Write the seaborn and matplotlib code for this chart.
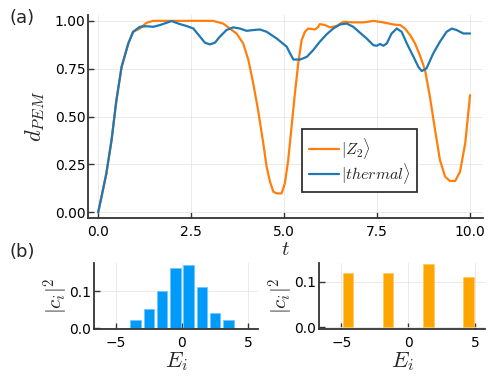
import matplotlib
matplotlib.use('Agg')
import matplotlib.pyplot as plt
from matplotlib.ticker import FormatStrFormatter
import numpy as np
import pandas as pd
import seaborn as sns

# data
t_thermal = [0.0, 0.09, 0.22, 0.36, 0.49, 0.63, 0.81, 0.94, 1.12, 1.30, 1.48, 1.66, 1.84, 1.97,
             2.20, 2.38, 2.56, 2.74, 2.87, 3.00, 3.14, 3.27, 3.45, 3.63, 3.81, 3.99, 4.17, 4.35,
             4.53, 4.80, 5.07, 5.16, 5.25, 5.43, 5.61, 5.78, 5.96, 6.14, 6.32, 6.50, 6.68, 6.86,
             7.04, 7.22, 7.40, 7.49, 7.58, 7.67, 7.76, 7.89, 8.03, 8.16, 8.30, 8.48, 8.61, 8.70,
             8.83, 9.01, 9.19, 9.37, 9.51, 9.64, 9.82, 10.0]
d_thermal = [0.0, 0.082, 0.204, 0.378, 0.586, 0.760, 0.882, 0.943, 0.969, 0.972, 0.969, 0.978,
             0.990, 0.999, 0.983, 0.973, 0.960, 0.917, 0.886, 0.877, 0.886, 0.917, 0.952, 0.966,
             0.960, 0.948, 0.952, 0.955, 0.943, 0.908, 0.865, 0.830, 0.798, 0.798, 0.812, 0.847,
             0.891, 0.929, 0.960, 0.981, 0.986, 0.969, 0.938, 0.908, 0.873, 0.870, 0.879, 0.870,
             0.882, 0.934, 0.960, 0.943, 0.882, 0.812, 0.760, 0.738, 0.752, 0.830, 0.891, 0.943,
             0.960, 0.952, 0.934, 0.934]

t_z2 = [0.0, 0.09, 0.22, 0.36, 0.49, 0.63, 0.81, 0.94, 1.12, 1.30, 1.48, 2.0, 2.5, 3.09, 3.36,
        3.54, 3.72, 3.90, 4.04, 4.17, 4.30, 4.44, 4.53, 4.62, 4.71, 4.80, 4.93, 5.02, 5.11, 5.20,
        5.29, 5.38, 5.47, 5.56, 5.65, 5.83, 5.92, 5.96, 6.10, 6.23, 6.41, 6.59, 6.86, 7.13, 7.40,
        7.67, 7.94, 8.12, 8.25, 8.39, 8.52, 8.65, 8.79, 8.92, 9.06, 9.19, 9.33, 9.46, 9.60, 9.73,
        9.87, 10.0]
d_z2 = [0.0, 0.082, 0.204, 0.378, 0.586, 0.760, 0.882, 0.943, 0.960, 0.990, 1.0, 1.0, 1.0, 1.0,
        0.986, 0.960, 0.934, 0.882, 0.795, 0.673, 0.534, 0.360, 0.238, 0.160, 0.108, 0.099, 0.099,
        0.151, 0.273, 0.447, 0.621, 0.778, 0.899, 0.943, 0.960, 0.955, 0.969, 0.983, 0.978, 0.966,
        0.973, 0.995, 0.992, 0.992, 1.0, 0.992, 0.981, 0.978, 0.960, 0.925, 0.882, 0.821, 0.743,
        0.604, 0.430, 0.273, 0.186, 0.164, 0.164, 0.212, 0.360, 0.612]

E_thermal = [-3.5, -2.5, -1.5, -0.5, 0.5, 1.5, 2.5, 3.5]
c_thermal = [0.022, 0.052, 0.100, 0.161, 0.171, 0.111, 0.042, 0.022]
E_z2 = [-4.5, -1.5, 1.5, 4.5]
c_z2 = [0.120, 0.120, 0.140, 0.110]

sns.set_theme(style='whitegrid')
plt.rcParams['font.family'] = ['DejaVu Sans']
plt.rcParams['mathtext.fontset'] = 'cm'


def style_axes(ax):
    ax.set_facecolor('white')
    for s in ['top', 'right']:
        ax.spines[s].set_visible(False)
    for s in ['left', 'bottom']:
        ax.spines[s].set_visible(True)
        ax.spines[s].set_color('#333333')
        ax.spines[s].set_linewidth(1.3)
    ax.grid(True, color='#e6e6e6', linewidth=0.6)
    ax.tick_params(direction='in', length=4, width=1.0, color='#333333',
                   labelsize=10, labelcolor='black', pad=2,
                   left=True, bottom=True)
    ax.tick_params(axis='x', pad=5)


fig = plt.figure(figsize=(4.98, 3.78), dpi=100)

# (a) distance vs time
ax = fig.add_axes([0.177, 0.423, 0.793, 0.537])
sns.lineplot(x=t_z2, y=d_z2, ax=ax, color='#ff7f0e', linewidth=1.6, label=r'$|Z_2\rangle$')
sns.lineplot(x=t_thermal, y=d_thermal, ax=ax, color='#1f77b4', linewidth=1.6,
             label=r'$|thermal\rangle$')
style_axes(ax)
ax.set_xlim(-0.27, 10.35)
ax.set_ylim(-0.03, 1.03)
ax.set_xticks([0, 2.5, 5, 7.5, 10])
ax.set_yticks([0, 0.25, 0.5, 0.75, 1.0])
ax.xaxis.set_major_formatter(FormatStrFormatter('%.1f'))
ax.yaxis.set_major_formatter(FormatStrFormatter('%.2f'))
ax.set_xlabel(r'$t$', fontsize=15, va='center')
ax.xaxis.set_label_coords(0.5, -0.153)
ax.set_ylabel(r'$d_{PEM}$', fontsize=16, va='center')
ax.yaxis.set_label_coords(-0.134, 0.5)
leg = ax.legend(loc='lower left', bbox_to_anchor=(0.542, 0.128), borderaxespad=0,
                fontsize=11.5, frameon=True, fancybox=False, handlelength=1.9,
                handletextpad=0.15, labelspacing=0.0, borderpad=0.4)
leg.get_frame().set_edgecolor('#333333')
leg.get_frame().set_linewidth(1.3)
leg.get_frame().set_alpha(1.0)

# (b) left: thermal state overlaps
axl = fig.add_axes([0.189, 0.130, 0.329, 0.174])
df_l = pd.DataFrame({'E': E_thermal, 'c': c_thermal})
sns.barplot(data=df_l, x='E', y='c', ax=axl, native_scale=True, width=0.8,
            color='#009af9', saturation=1, edgecolor='#6fc4ff', linewidth=0.5)
style_axes(axl)
axl.set_xlim(-6.65, 5.75)
axl.set_ylim(-0.001, 0.175)
axl.set_xticks([-5, 0, 5])
axl.set_yticks([0, 0.1])
axl.yaxis.set_major_formatter(FormatStrFormatter('%.1f'))
axl.set_xlabel(r'$E_i$', fontsize=16, va='center')
axl.xaxis.set_label_coords(0.5, -0.5)
axl.set_ylabel(r'$|c_i|^2$', fontsize=15, va='center')
axl.yaxis.set_label_coords(-0.23, 0.5)

# (b) right: Z2 state overlaps
axr = fig.add_axes([0.641, 0.130, 0.333, 0.174])
df_r = pd.DataFrame({'E': E_z2, 'c': c_z2})
sns.barplot(data=df_r, x='E', y='c', ax=axr, native_scale=True, width=0.8 / 3,
            color='#ffa500', saturation=1, edgecolor='#ffc866', linewidth=0.5)
style_axes(axr)
axr.set_xlim(-6.65, 5.75)
axr.set_ylim(-0.003, 0.141)
axr.set_xticks([-5, 0, 5])
axr.set_yticks([0, 0.1])
axr.yaxis.set_major_formatter(FormatStrFormatter('%.1f'))
axr.set_xlabel(r'$E_i$', fontsize=16, va='center')
axr.xaxis.set_label_coords(0.5, -0.5)
axr.set_ylabel(r'$|c_i|^2$', fontsize=15, va='center')
axr.yaxis.set_label_coords(-0.23, 0.5)

fig.text(0.044, 0.952, '(a)', fontsize=13, ha='center', va='center')
fig.text(0.044, 0.333, '(b)', fontsize=13, ha='center', va='center')

fig.savefig('out.png', dpi=100, facecolor='white')
